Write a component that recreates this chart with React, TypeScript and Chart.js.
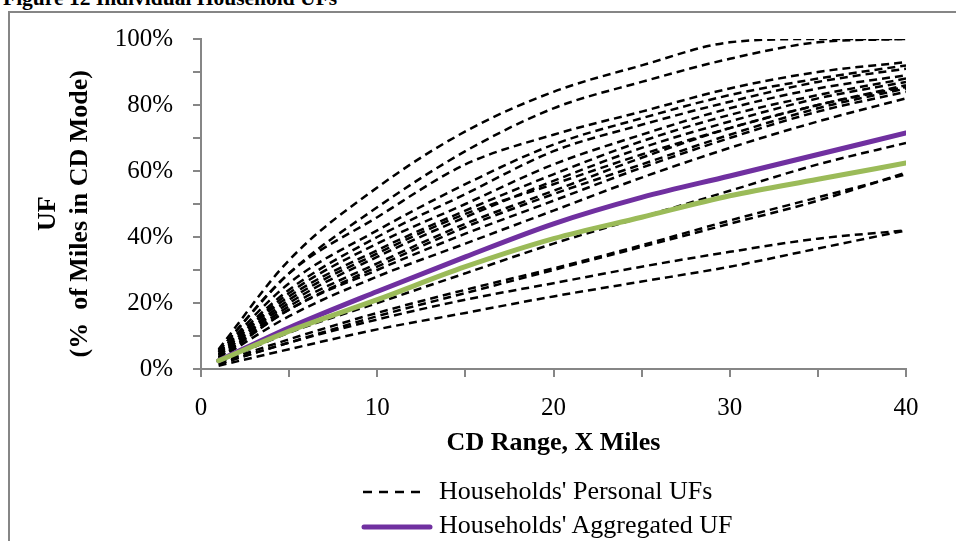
import React, { useEffect, useRef } from "react";
import { Chart, registerables } from "chart.js";

Chart.register(...registerables);

// CD range (miles) at which each UF curve is sampled
const RANGE_MILES = [1, 5, 10, 15, 20, 25, 30, 35, 40];

// Households' personal UFs (% of miles in CD mode)
const PERSONAL_UFS: number[][] = [
  [6, 33, 55, 72, 84, 92, 99, 100, 100],
  [5.5, 29, 49, 66, 79, 87, 94, 99, 100],
  [5.5, 29, 46, 62, 71, 78, 85, 90, 93],
  [5, 26, 42, 56, 68, 76, 83, 88, 92],
  [5, 24, 40, 53, 66, 74, 81, 87, 91],
  [4.5, 23, 38, 50, 62, 71, 79, 85, 89],
  [4.5, 22, 36, 48, 59, 69, 77, 83, 88],
  [4, 21, 35, 47, 56, 65, 73, 80, 86],
  [4, 20, 34, 46, 57, 67, 75, 82, 87],
  [3.5, 19, 32, 44, 54, 64, 73, 80, 85.5],
  [3.5, 18, 31, 43, 53, 62, 71, 79, 85],
  [3, 18, 30, 41, 51, 61, 70, 78, 84],
  [3, 16, 28, 38, 48, 58, 67, 75, 82],
  [2, 11, 20, 29, 38, 46, 54, 62, 68.5],
  [1.5, 8, 16, 23, 30, 37, 44, 51, 59.5],
  [2, 9, 17, 24, 30.5, 37.5, 45, 52, 59],
  [1.5, 8, 15, 21, 26, 31, 35.5, 39.5, 42],
  [1, 6, 12, 17, 22, 26.5, 31, 36.5, 42],
];

const AGGREGATED_UF = [2.5, 12.5, 23.5, 34, 44, 52, 58.5, 65, 71.5];
const FLEET_UF = [2.5, 11.5, 21, 31, 39.5, 46, 52.5, 57.5, 62.4];

const X_LABELED_TICKS = [0, 10, 20, 30, 40];
const Y_LABELED_TICKS = [0, 20, 40, 60, 80, 100];

const TITLE = "Figure 12 Individual Household UFs";
const X_TITLE = "CD Range, X Miles";
const Y_TITLE = ["UF   ", "(%  of Miles in CD Mode)   "];
const LEGEND_PERSONAL = "Households' Personal UFs";
const LEGEND_AGGREGATED = "Households' Aggregated UF";

const FONT = '"Liberation Serif", "Times New Roman", Times, serif';
const AXIS_GRAY = "#868686";
const PURPLE = "#7030A0";
const GREEN = "#9BBB59";

const toPoints = (ys: number[]) => ys.map((y, i) => ({ x: RANGE_MILES[i], y }));

export default function App() {
  const canvasRef = useRef<HTMLCanvasElement | null>(null);

  useEffect(() => {
    if (!canvasRef.current) return;
    const datasets: any[] = [
      {
        label: "Fleet UF",
        data: toPoints(FLEET_UF),
        borderColor: GREEN,
        borderWidth: 5,
        borderCapStyle: "round",
        pointRadius: 0,
        cubicInterpolationMode: "monotone",
        order: 0,
      },
      {
        label: LEGEND_AGGREGATED,
        data: toPoints(AGGREGATED_UF),
        borderColor: PURPLE,
        borderWidth: 5,
        borderCapStyle: "round",
        pointRadius: 0,
        cubicInterpolationMode: "monotone",
        order: 1,
      },
      ...PERSONAL_UFS.map((ys) => ({
        label: LEGEND_PERSONAL,
        data: toPoints(ys),
        borderColor: "#000000",
        borderWidth: 2.5,
        borderDash: [8, 5],
        pointRadius: 0,
        cubicInterpolationMode: "monotone",
        order: 2,
      })),
    ];

    const chart = new Chart(canvasRef.current, {
      type: "line",
      data: { datasets },
      options: {
        animation: false,
        responsive: false,
        devicePixelRatio: 1,
        layout: { padding: { left: 0, top: 39, right: 50, bottom: 82 } },
        plugins: { legend: { display: false }, tooltip: { enabled: false } },
        scales: {
          x: {
            type: "linear",
            min: 0,
            max: 40,
            afterFit: (s: any) => {
              s.height = 90;
            },
            border: { color: AXIS_GRAY, width: 2 },
            grid: {
              drawOnChartArea: false,
              drawTicks: true,
              tickLength: 8,
              color: AXIS_GRAY,
              lineWidth: 2,
            },
            ticks: {
              stepSize: 5,
              color: "#000",
              padding: 16,
              maxRotation: 0,
              autoSkip: false,
              font: { family: FONT, size: 25 },
              callback: (v: any) => (X_LABELED_TICKS.includes(Number(v)) ? String(v) : ""),
            },
            title: {
              display: true,
              text: X_TITLE,
              color: "#000",
              padding: { top: 0, bottom: 0 },
              font: { family: FONT, size: 26, weight: "bold" },
            },
          },
          y: {
            min: 0,
            max: 100,
            afterFit: (s: any) => {
              s.width = 201;
            },
            border: { color: AXIS_GRAY, width: 2 },
            grid: {
              drawOnChartArea: false,
              drawTicks: true,
              tickLength: 8,
              color: AXIS_GRAY,
              lineWidth: 2,
            },
            ticks: {
              stepSize: 10,
              color: "#000",
              padding: 20,
              autoSkip: false,
              font: { family: FONT, size: 25 },
              callback: (v: any) => (Y_LABELED_TICKS.includes(Number(v)) ? `${v}%` : ""),
            },
            title: {
              display: true,
              text: Y_TITLE,
              color: "#000",
              padding: { top: 32, bottom: 0 },
              font: { family: FONT, size: 26, weight: "bold", lineHeight: 1.23 },
            },
          },
        },
      },
    } as any);
    return () => chart.destroy();
  }, []);

  const legendText: React.CSSProperties = {
    position: "absolute",
    left: 439,
    fontFamily: FONT,
    fontSize: 26,
    lineHeight: "30px",
    whiteSpace: "nowrap",
    color: "#000",
  };

  return (
    <div
      style={{
        position: "fixed",
        left: 0,
        top: 0,
        width: 956,
        height: 541,
        overflow: "hidden",
        background: "#fff",
      }}
    >
      <div
        style={{
          position: "absolute",
          left: 8,
          top: 11,
          width: 2000,
          height: 2000,
          borderLeft: `2px solid ${AXIS_GRAY}`,
          borderTop: `2px solid ${AXIS_GRAY}`,
        }}
      />
      <div
        style={{
          position: "absolute",
          left: 3,
          top: -13,
          fontFamily: FONT,
          fontWeight: "bold",
          fontSize: 21.5,
          lineHeight: "22px",
          whiteSpace: "nowrap",
          color: "#000",
        }}
      >
        {TITLE}
      </div>
      <canvas
        ref={canvasRef}
        width={956}
        height={541}
        style={{ position: "absolute", left: 0, top: 0, width: 956, height: 541 }}
      />
      <svg
        width={956}
        height={541}
        style={{ position: "absolute", left: 0, top: 0, pointerEvents: "none" }}
      >
        <line x1={363} y1={492} x2={426} y2={492} stroke="#000" strokeWidth={2.5} strokeDasharray="9 7" />
        <line x1={364} y1={527} x2={430} y2={527} stroke={PURPLE} strokeWidth={5} strokeLinecap="round" />
      </svg>
      <div style={{ ...legendText, top: 476 }}>{LEGEND_PERSONAL}</div>
      <div style={{ ...legendText, top: 510 }}>{LEGEND_AGGREGATED}</div>
    </div>
  );
}
